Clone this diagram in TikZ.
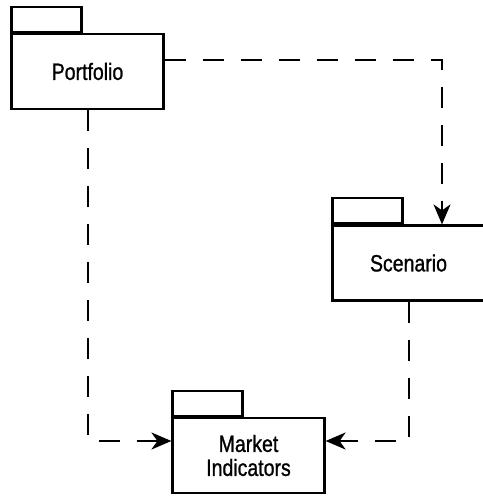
\documentclass[tikz,border=0pt]{standalone}
\usepackage{fontspec}
\setmainfont[FakeStretch=0.83,FakeBold=1]{Liberation Sans}
\usepackage{tikz}
\usetikzlibrary{arrows.meta,positioning,calc}
\tikzset{
  pkg/.style={draw=black, fill=white, line width=1.1pt, minimum width=76pt,
              minimum height=37.5pt, align=center, inner sep=2pt,
              font=\fontsize{11.75}{12}\selectfont},
  pkgtab/.style={draw=black, line width=1.1pt, minimum width=35pt,
                 minimum height=12.5pt, inner sep=0pt, anchor=south west},
  dep/.style={-{Stealth[length=10pt,width=8.5pt,inset=3pt]}, line width=1pt,
              dash pattern=on 10.5pt off 8.5pt}
}
\begin{document}
\begin{tikzpicture}[x=0.5pt,y=-0.5pt]
    \useasboundingbox (0,0) rectangle (482,496);

    % packages
    \node[pkg] (port) at (87.5,71.5) {Portfolio};
    \node[pkgtab] (porttab) at (port.north west) {};

    \node[pkg] (scen) at (408.5,263) {Scenario};
    \node[pkgtab] (scentab) at (scen.north west) {};

    \node[pkg] (mkt) at (248.5,455.5) {Market\\Indicators};
    \node[pkgtab] (mkttab) at (mkt.north west) {};

    % dependencies
    \draw[dep] ([yshift=5.75pt]port.east) -| ([xshift=16.75pt]scen.north);
    \draw[dep] (port.south) |- ([yshift=7.25pt]mkt.west);
    \draw[dep] (scen.south) |- ([yshift=7.25pt]mkt.east);
\end{tikzpicture}
\end{document}
